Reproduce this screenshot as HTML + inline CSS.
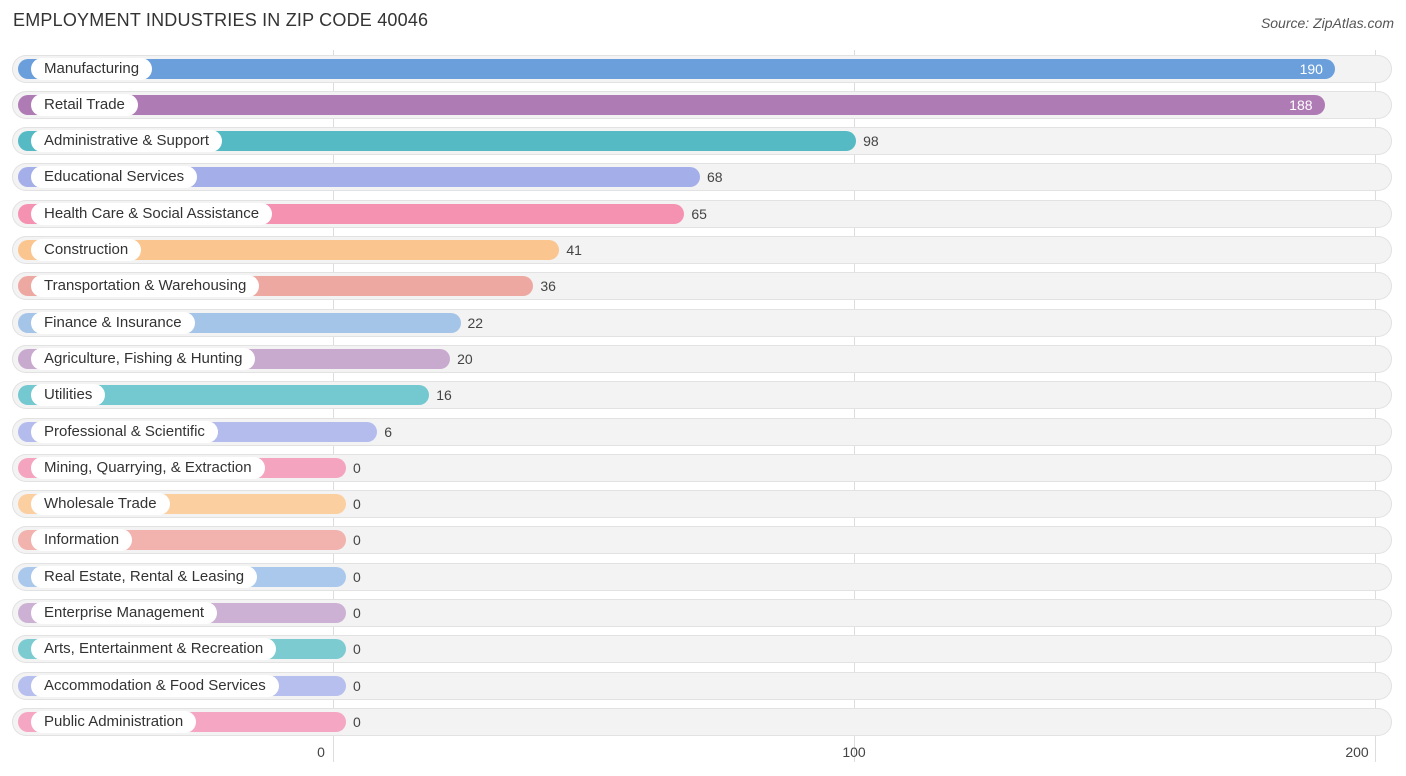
<!DOCTYPE html>
<html><head><meta charset="utf-8"><style>
body{margin:0;width:1406px;height:776px;background:#fff;font-family:"Liberation Sans",sans-serif;position:relative;overflow:hidden}
.t{position:absolute;left:13px;top:10px;font-size:18px;color:#333;letter-spacing:0.2px}
.src{position:absolute;right:12px;top:15px;font-size:14px;color:#555;font-style:italic}
.row{position:absolute;left:12px;width:1380px;height:28px;border-radius:14px;background:#f3f3f3;box-shadow:inset 0 0 0 1px #e2e2e2}
.bar{position:absolute;left:18px;height:20px;border-radius:10px}
.lab{position:absolute;left:31px;height:22px;line-height:22px;padding:0 13px;background:#fff;border-radius:11px;font-size:15px;color:#333;white-space:nowrap}
.val{position:absolute;font-size:14px;color:#444;line-height:20px}
.grid{position:absolute;top:50px;height:712px;width:1px;background:#ddd}
.tick{position:absolute;top:744px;font-size:14px;color:#444;transform:translateX(-50%)}
</style></head><body>
<div class="t">EMPLOYMENT INDUSTRIES IN ZIP CODE 40046</div>
<div class="src">Source: ZipAtlas.com</div>
<div id="c"></div>
<script>
const categories=["Manufacturing","Retail Trade","Administrative & Support","Educational Services","Health Care & Social Assistance","Construction","Transportation & Warehousing","Finance & Insurance","Agriculture, Fishing & Hunting","Utilities","Professional & Scientific","Mining, Quarrying, & Extraction","Wholesale Trade","Information","Real Estate, Rental & Leasing","Enterprise Management","Arts, Entertainment & Recreation","Accommodation & Food Services","Public Administration"];
const values=[190,188,98,68,65,41,36,22,20,16,6,0,0,0,0,0,0,0,0];
const colors=["#6a9fdc","#ae7bb4","#56bac4","#a4aee8","#f591b1","#fbc58f","#eda8a2","#a4c4e8","#c9aacf","#74c8cf","#b4bced","#f5a4c0","#fbcf9f","#f2b2ae","#aac8ec","#ccb1d4","#7ccbd1","#b6bfee","#f5a6c2"];
const ticks=[0,100,200];
const c=document.getElementById('c');
const gx=v=>333+v*5.21;
const bx=v=>346+v*5.205;
ticks.forEach(t=>{
 const g=document.createElement('div');g.className='grid';g.style.left=gx(t)+'px';
 
 
 c.appendChild(g);
 const l=document.createElement('div');l.className='tick';l.style.left=(gx(t)-(t==0?12:t==200?18:0))+'px';l.textContent=t;
 
 
 c.appendChild(l);
});
categories.forEach((cat,i)=>{
 const cy=68.5+i*36.3;
 const r=document.createElement('div');r.className='row';r.style.top=(cy-14)+'px';
 
 
 c.appendChild(r);
 const b=document.createElement('div');b.className='bar';b.style.top=(cy-10)+'px';
 const end=bx(values[i]);b.style.width=(end-18)+'px';b.style.background=colors[i];
 
 
 c.appendChild(b);
 const l=document.createElement('div');l.className='lab';l.style.top=(cy-11)+'px';l.textContent=cat;
 
 
 c.appendChild(l);
 const v=document.createElement('div');v.className='val';v.style.top=(cy-10)+'px';v.textContent=values[i];
 if(values[i]>150){v.style.left=(end-48)+'px';v.style.width='36px';v.style.textAlign='right';v.style.color='#fff';}
 else v.style.left=(end+7)+'px';
 
 
 c.appendChild(v);
});
</script>
</body></html>
